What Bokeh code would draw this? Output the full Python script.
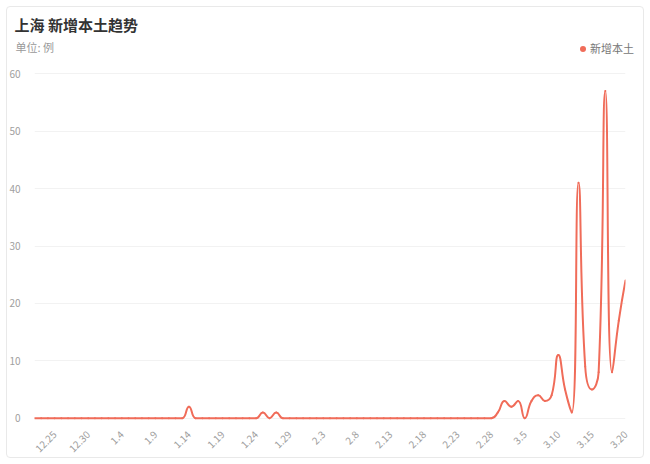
import math
import pandas as pd
from bokeh.plotting import figure
from bokeh.layouts import column
from bokeh.models import FixedTicker, Label, Legend, LegendItem, Range1d, ColumnDataSource
from bokeh.embed import file_html
from bokeh.resources import INLINE

# ---------------- data ----------------
title_text = "上海 新增本土趋势"
unit_text = "单位: 例"
series_name = "新增本土"
start_date = "2021-12-22"
end_date = "2022-03-20"
dates = pd.date_range(start_date, end_date)
date_labels = [f"{d.month}.{d.day}" for d in dates]

cases = [
    0, 0, 0, 0, 0, 0, 0, 0, 0, 0,      # 12.22 - 12.31
    0, 0, 0, 0, 0, 0, 0, 0, 0, 0,      # 1.1 - 1.10
    0, 0, 0, 2, 0, 0, 0, 0, 0, 0,      # 1.11 - 1.20
    0, 0, 0, 0, 1, 0, 1, 0, 0, 0,      # 1.21 - 1.30
    0, 0, 0, 0, 0, 0, 0, 0, 0, 0,      # 1.31 - 2.9
    0, 0, 0, 0, 0, 0, 0, 0, 0, 0,      # 2.10 - 2.19
    0, 0, 0, 0, 0, 0, 0, 0, 0,         # 2.20 - 2.28
    1, 3, 2, 3, 0, 3, 4, 3, 4, 11,     # 3.1 - 3.10
    5, 1, 41, 9, 5, 8, 57, 8, 17, 24,  # 3.11 - 3.20
]
y_ticks = [0, 10, 20, 30, 40, 50, 60]
label_every = 5
first_label = 3  # 12.25

FONT = "Noto Sans CJK SC"
LINE_COLOR = "#f06c59"

# ------------- echarts-like smoothing (bezier control points) -------------
def smooth_bezier(xs, ys, sx, sy, smooth=0.5):
    P = [(x * sx, y * sy) for x, y in zip(xs, ys)]
    n = len(P)
    out = {k: [] for k in ("x0", "y0", "x1", "y1", "cx0", "cy0", "cx1", "cy1")}
    cp0 = P[0]
    for i in range(1, n):
        x, y = P[i]
        px, py = P[i - 1]
        if i == n - 1:
            cp1 = (x, y)
            ncp0 = None
        else:
            nx, ny = P[i + 1]
            vx, vy = nx - px, ny - py
            d0 = math.hypot(x - px, y - py)
            d1 = math.hypot(nx - x, ny - y)
            r = d1 / (d0 + d1)
            ncx = x + vx * smooth * r
            ncy = y + vy * smooth * r
            ncx = min(ncx, max(nx, x)); ncy = min(ncy, max(ny, y))
            ncx = max(ncx, min(nx, x)); ncy = max(ncy, min(ny, y))
            vx, vy = ncx - x, ncy - y
            c1x = x - vx * d0 / d1
            c1y = y - vy * d0 / d1
            c1x = min(c1x, max(px, x)); c1y = min(c1y, max(py, y))
            c1x = max(c1x, min(px, x)); c1y = max(c1y, min(py, y))
            vx, vy = x - c1x, y - c1y
            ncx = x + vx * d1 / d0
            ncy = y + vy * d1 / d0
            cp1 = (c1x, c1y)
            ncp0 = (ncx, ncy)
        out["x0"].append(px / sx); out["y0"].append(py / sy)
        out["x1"].append(x / sx); out["y1"].append(y / sy)
        out["cx0"].append(cp0[0] / sx); out["cy0"].append(cp0[1] / sy)
        out["cx1"].append(cp1[0] / sx); out["cy1"].append(cp1[1] / sy)
        cp0 = ncp0
    return out

idx = list(range(len(cases)))
seg = ColumnDataSource(smooth_bezier(idx, cases, 6.716, 5.75))

# ---------------- header (title, unit, legend) ----------------
HEADER_H = 60
head = figure(width=650, height=HEADER_H, output_backend="svg", toolbar_location=None,
              x_range=Range1d(0, 650), y_range=Range1d(0, HEADER_H),
              x_axis_type=None, y_axis_type=None, min_border=0)
head.frame_align = False
head.outline_line_color = None
head.grid.grid_line_color = None
head.background_fill_alpha = 0
head.border_fill_alpha = 0

head.add_layout(Label(x=14, y=36, x_units="screen", y_units="screen", text=title_text,
                      text_font=FONT, text_font_size="15px", text_font_style="bold",
                      text_color="#333333", text_baseline="middle"))
head.add_layout(Label(x=15, y=14, x_units="screen", y_units="screen", text=unit_text,
                      text_font=FONT, text_font_size="11px", text_color="#999999",
                      text_baseline="middle"))

# legend proxy: the series as zero-size markers (only the legend swatch shows)
dot = head.scatter(x=idx, y=cases, size=0, fill_color=LINE_COLOR, line_color=None,
                   marker="circle")
legend = Legend(items=[LegendItem(label=series_name, renderers=[dot])],
                location=(575, 4), border_line_color=None, background_fill_alpha=0,
                label_text_font=FONT, label_text_font_size="11px", label_text_color="#777777",
                glyph_width=15, glyph_height=15, label_height=15, label_standoff=0,
                padding=0, margin=0, spacing=0)
head.add_layout(legend)

# ---------------- main chart ----------------
p = figure(width=650, height=464 - HEADER_H, output_backend="svg", toolbar_location=None,
           x_range=Range1d(0, len(cases) - 1), y_range=Range1d(-0.4, 60.4),
           min_border_left=34, min_border_right=25, min_border_top=11, min_border_bottom=44)
p.frame_align = False
p.outline_line_color = None
p.background_fill_alpha = 0
p.border_fill_alpha = 0

p.xgrid.grid_line_color = None
p.ygrid.grid_line_color = "#f2f2f2"
p.ygrid.ticker = FixedTicker(ticks=y_ticks)

p.yaxis.ticker = FixedTicker(ticks=y_ticks)
p.xaxis.ticker = FixedTicker(ticks=list(range(first_label, len(cases), label_every)))
p.xaxis.major_label_overrides = {i: date_labels[i] for i in range(len(cases))}
p.xaxis.major_label_orientation = math.pi / 4
for ax in (p.xaxis, p.yaxis):
    ax.axis_line_color = None
    ax.major_tick_line_color = None
    ax.minor_tick_line_color = None
    ax.major_label_text_color = "#a0a0a0"
    ax.major_label_text_font_size = "10px"
    ax.major_label_text_font = FONT
p.yaxis.major_label_standoff = 8
p.xaxis.major_label_standoff = 6

p.bezier(x0="x0", y0="y0", x1="x1", y1="y1", cx0="cx0", cy0="cy0", cx1="cx1", cy1="cy1",
         source=seg, line_color=LINE_COLOR, line_width=2, line_cap="round")

layout = column(head, p, spacing=0)
layout.styles = {"outline": "1px solid #e9e9e9", "outline-offset": "-7px",
                 "border-radius": "10px", "background": "white"}

open("out.html", "w").write(file_html(layout, INLINE))
